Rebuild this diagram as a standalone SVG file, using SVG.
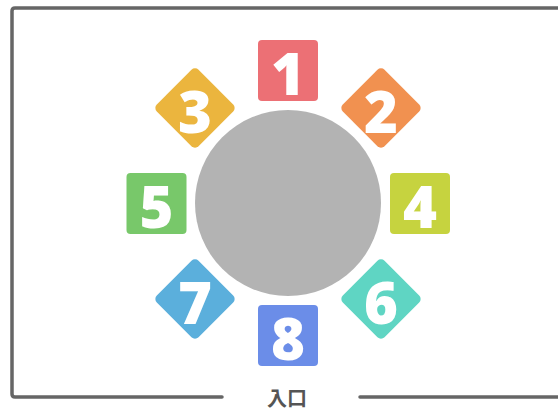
<svg xmlns="http://www.w3.org/2000/svg" width="558" height="410" viewBox="0 0 558 410">
<style>
.frame{fill:none;stroke:#666;stroke-width:3.5;stroke-linecap:round;stroke-linejoin:round}
.num{font-family:"Open Sans","Noto Sans","DejaVu Sans",sans-serif;font-weight:800;font-size:58px;fill:#fff;text-anchor:middle;dominant-baseline:central}
.lbl{font-family:"Noto Sans CJK JP","Noto Sans CJK SC",sans-serif;font-weight:700;font-size:20px;fill:#555;text-anchor:middle;dominant-baseline:central}
</style>
<defs>
<rect id="sq" x="-30" y="-30.5" width="60" height="61" rx="4"/>
<rect id="dm" x="-29.5" y="-29.5" width="59" height="59" rx="5" transform="rotate(45)"/>
</defs>
<rect width="558" height="410" fill="#fff"/>
<g id="frame">
<path class="frame" d="M222 397 H15 Q12 397 12 394 V11 Q12 8 15 8 H562"/>
<path class="frame" d="M360 397 H562"/>
<text class="lbl" x="287" y="397">入口</text>
</g>
<g id="center"><circle cx="288" cy="203" r="93" fill="#b3b3b3"/></g>
<g id="n1" transform="translate(288,70.5)"><use href="#sq" fill="#ec7075"/><text class="num" y="2">1</text></g>
<g id="n2" transform="translate(381,108)"><use href="#dm" fill="#f19150"/><text class="num" y="2">2</text></g>
<g id="n3" transform="translate(195,108)"><use href="#dm" fill="#ebb53e"/><text class="num" y="2">3</text></g>
<g id="n4" transform="translate(420,203.5)"><use href="#sq" fill="#c6d33f"/><text class="num" y="2">4</text></g>
<g id="n5" transform="translate(156.5,203.5)"><use href="#sq" fill="#78c86a"/><text class="num" y="2">5</text></g>
<g id="n6" transform="translate(381,299)"><use href="#dm" fill="#5fd5c3"/><text class="num" y="2">6</text></g>
<g id="n7" transform="translate(195,299)"><use href="#dm" fill="#5bafdc"/><text class="num" y="2">7</text></g>
<g id="n8" transform="translate(288,335.5)"><use href="#sq" fill="#6b8de8"/><text class="num" y="2">8</text></g>
<g id="connectors"/>
</svg>
